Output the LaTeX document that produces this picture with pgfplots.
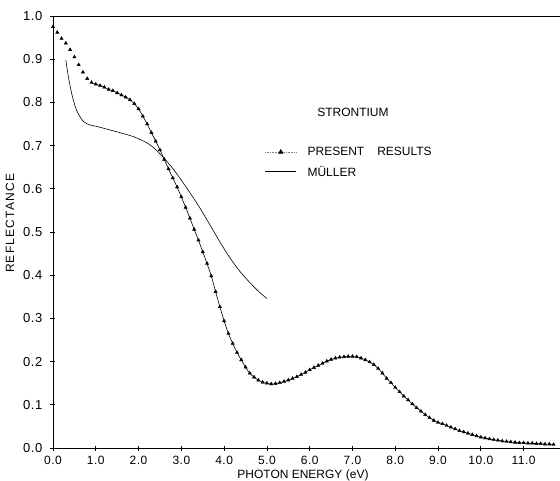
\documentclass[border=0pt]{standalone}
\usepackage{pgfplots}
\pgfplotsset{compat=1.18}
\usepackage{pgfplotstable}
\usepackage{fontspec}
\setmainfont{Liberation Sans}
\newfontfamily\tickfont[LetterSpace=4]{Liberation Sans}
\newfontfamily\widefont[LetterSpace=10]{Liberation Sans}

\pgfplotstableread{
x y
0.0 0.975
0.1 0.962
0.2 0.948
0.3 0.937
0.4 0.922
0.5 0.905
0.6 0.887
0.7 0.870
0.8 0.855
0.9 0.846
1.0 0.842
1.1 0.839
1.2 0.835
1.3 0.830
1.4 0.827
1.5 0.822
1.6 0.817
1.7 0.812
1.8 0.806
1.9 0.797
2.0 0.785
2.1 0.768
2.2 0.750
2.3 0.730
2.4 0.710
2.5 0.690
2.6 0.668
2.7 0.646
2.8 0.625
2.9 0.604
3.0 0.581
3.1 0.557
3.2 0.532
3.3 0.506
3.4 0.481
3.5 0.454
3.6 0.427
3.7 0.398
3.8 0.362
3.9 0.327
4.0 0.294
4.1 0.265
4.2 0.242
4.3 0.221
4.4 0.204
4.5 0.187
4.6 0.173
4.7 0.164
4.8 0.157
4.9 0.152
5.0 0.150
5.1 0.148
5.2 0.149
5.3 0.151
5.4 0.154
5.5 0.157
5.6 0.161
5.7 0.165
5.8 0.170
5.9 0.175
6.0 0.181
6.1 0.186
6.2 0.191
6.3 0.196
6.4 0.201
6.5 0.205
6.6 0.208
6.7 0.210
6.8 0.211
6.9 0.212
7.0 0.212
7.1 0.211
7.2 0.208
7.3 0.204
7.4 0.199
7.5 0.193
7.6 0.184
7.7 0.173
7.8 0.161
7.9 0.151
8.0 0.140
8.1 0.130
8.2 0.120
8.3 0.111
8.4 0.102
8.5 0.093
8.6 0.085
8.7 0.077
8.8 0.070
8.9 0.064
9.0 0.059
9.1 0.056
9.2 0.052
9.3 0.048
9.4 0.044
9.5 0.040
9.6 0.037
9.7 0.034
9.8 0.031
9.9 0.028
10.0 0.025
10.1 0.023
10.2 0.021
10.3 0.019
10.4 0.018
10.5 0.016
10.6 0.015
10.7 0.014
10.8 0.013
10.9 0.012
11.0 0.012
11.1 0.011
11.2 0.011
11.3 0.010
11.4 0.010
11.5 0.009
11.6 0.009
11.7 0.008
}\present

\pgfplotstableread{
x y
0.30 0.898
0.35 0.865
0.40 0.838
0.45 0.815
0.55 0.782
0.70 0.757
0.85 0.748
1.00 0.745
1.30 0.737
1.60 0.729
1.90 0.720
2.20 0.706
2.40 0.691
2.60 0.670
2.80 0.647
3.00 0.620
3.20 0.591
3.40 0.561
3.60 0.528
3.80 0.494
4.00 0.461
4.20 0.431
4.40 0.405
4.60 0.383
4.80 0.363
5.00 0.346
}\muller

\begin{document}
\begin{tikzpicture}
\begin{axis}[
  name=ax,
  scale only axis,
  width=507pt, height=432pt,
  xmin=0, xmax=11.85, ymin=0, ymax=1.0,
  axis x line=box, axis y line=left,
  axis line style={-, line width=0.8pt},
  every outer y axis line/.append style={-},
  every outer x axis line/.append style={-},
  xtick={0,1,...,11}, ytick={0,0.1,...,1.0},
  tick pos=left,
  tick align=center,
  major tick length=5pt,
  tick style={line width=0.7pt, black},
  /pgf/number format/.cd, fixed, fixed zerofill, precision=1, assume math mode=true,
  /pgfplots/.cd,
  xticklabel style={font=\tickfont\fontsize{12}{14}\selectfont, anchor=base, yshift=-14pt, inner sep=0pt},
  yticklabel style={font=\tickfont\fontsize{13}{15}\selectfont, anchor=east, xshift=-8pt, inner sep=0pt},
  every axis x label/.style={at={(axis description cs:0.493,0)}, yshift=-27pt, anchor=center, font=\fontsize{12}{14}\selectfont},
  every axis y label/.style={at={(axis description cs:0,0.52)}, xshift=-43pt, anchor=center, rotate=90, font=\widefont\fontsize{12}{14}\selectfont},
  xlabel={PHOTON ENERGY (eV)},
  ylabel={REFLECTANCE},
  legend style={draw=none, fill=none, at={(axis cs:4.95,0.697)}, anchor=north west,
    inner sep=0pt, row sep=9pt, font=\fontsize{12}{14}\selectfont,
    nodes={inner sep=0pt},
    /tikz/every odd column/.append style={column sep=11pt}},
  legend cell align=left,
]
\addplot[only marks, mark=triangle*, mark size=1.9pt, black,
  legend image code/.code={
    \draw[densely dotted, gray, line width=0.6pt] (0pt,0pt) -- (31pt,0pt);
    \draw[black] plot[mark=triangle*, mark size=2.6pt] coordinates {(15.5pt,0pt)};
  }] table[x=x,y=y] {\present};
\addlegendentry{PRESENT\hspace{13pt}RESULTS}
\addplot[black, line width=0.6pt, smooth, forget plot, restrict x to domain=0.85:12] table[x=x,y=y] {\present};
\addplot[black, line width=0.6pt, smooth,
  legend image code/.code={\draw[black, line width=0.6pt] (0pt,0pt) -- (31pt,0pt);}] table[x=x,y=y] {\muller};
\addlegendentry{MÜLLER}
\node[font=\fontsize{12}{14}\selectfont] at (axis cs:7.01,0.778) {STRONTIUM};
\end{axis}
\pgfresetboundingbox
\path[use as bounding box] ([shift={(-53pt,-32pt)}]ax.south west) rectangle ([shift={(507pt,448pt)}]ax.south west);
\end{tikzpicture}
\end{document}
